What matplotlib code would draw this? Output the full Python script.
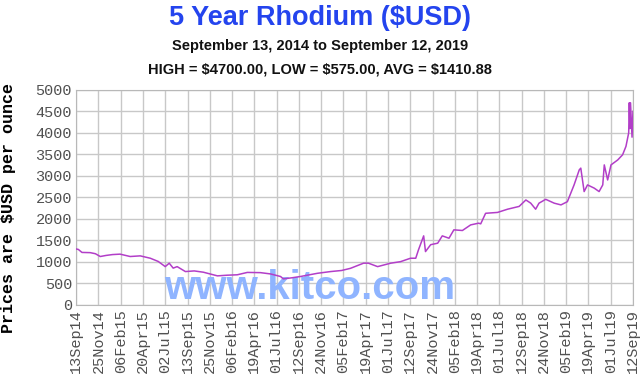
import pandas as pd
import matplotlib
matplotlib.use("Agg")
import matplotlib.pyplot as plt


# values (date, $USD per ounce)
dates = ['2014-09-13', '2014-09-20', '2014-10-02', '2014-10-29', '2014-11-15', '2014-12-01',
         '2014-12-20', '2015-01-10', '2015-02-04', '2015-03-09', '2015-04-11', '2015-05-14',
         '2015-06-09', '2015-07-02', '2015-07-15', '2015-07-28', '2015-08-10', '2015-09-06',
         '2015-10-05', '2015-11-04', '2015-12-20', '2016-01-20', '2016-02-23', '2016-03-27',
         '2016-05-09', '2016-06-11', '2016-07-14', '2016-07-23', '2016-08-20', '2016-09-17',
         '2016-11-12', '2016-12-25', '2017-01-30', '2017-02-28', '2017-04-12', '2017-04-28',
         '2017-05-28', '2017-07-10', '2017-08-11', '2017-09-13', '2017-09-30', '2017-10-09',
         '2017-10-26', '2017-11-01', '2017-11-18', '2017-12-11', '2017-12-26', '2018-01-17',
         '2018-02-02', '2018-03-02', '2018-03-29', '2018-04-24', '2018-05-01', '2018-05-17',
         '2018-06-25', '2018-07-28', '2018-09-04', '2018-09-26', '2018-10-12', '2018-10-28',
         '2018-11-08', '2018-11-30', '2018-12-28', '2019-01-19', '2019-02-09', '2019-03-03',
         '2019-03-20', '2019-03-25', '2019-04-05', '2019-04-16', '2019-05-08', '2019-05-24',
         '2019-06-05', '2019-06-10', '2019-06-21', '2019-07-02', '2019-07-24', '2019-08-09',
         '2019-08-20', '2019-08-29', '2019-08-31', '2019-09-02', '2019-09-04', '2019-09-09',
         '2019-09-12']
prices = [1300, 1290, 1220, 1215, 1190, 1125,
          1150, 1170, 1180, 1125, 1140, 1085,
          1010, 890, 970, 855, 890, 775,
          790, 760, 675, 690, 700, 755,
          750, 720, 660, 605, 630, 660,
          735, 775, 800, 850, 970, 970,
          890, 970, 1005, 1085, 1085, 1280,
          1605, 1240, 1400, 1435, 1605, 1550,
          1745, 1730, 1860, 1900, 1885, 2130,
          2150, 2225, 2290, 2440, 2365, 2225,
          2365, 2455, 2365, 2325, 2400, 2790,
          3140, 3180, 2635, 2790, 2715, 2635,
          2790, 3255, 2905, 3255, 3370, 3490,
          3685, 4000, 4700, 4100, 4700, 3900,
          4500]

tick_labels = ['13Sep14', '25Nov14', '06Feb15', '20Apr15', '02Jul15', '13Sep15', '25Nov15',
               '06Feb16', '19Apr16', '01Jul16', '12Sep16', '24Nov16', '05Feb17', '19Apr17',
               '01Jul17', '12Sep17', '24Nov17', '05Feb18', '19Apr18', '01Jul18', '12Sep18',
               '24Nov18', '05Feb19', '19Apr19', '01Jul19', '12Sep19']
y_ticks = list(range(0, 5001, 500))

title = '5 Year Rhodium ($USD)'
subtitle = 'September 13, 2014 to September 12, 2019'
stats = 'HIGH = $4700.00, LOW = $575.00, AVG = $1410.88'

x = pd.to_datetime(dates)
tick_dates = pd.to_datetime(tick_labels, format='%d%b%y')

fig = plt.figure(figsize=(6.4, 3.84), dpi=100)
ax = fig.add_axes([0.119, 0.206, 0.870, 0.560])

ax.plot(x, prices, color='#b23ec8', lw=1.1, zorder=3)

ax.set_xlim(tick_dates[0], tick_dates[-1])
ax.set_ylim(0, 5000)
ax.set_xticks(tick_dates)
ax.set_xticklabels(tick_labels, rotation=90, family='Liberation Mono', fontsize=11, color='#505050')
ax.set_yticks(y_ticks)
ax.set_yticklabels([str(v) for v in y_ticks], family='Liberation Mono', fontsize=11, color='#505050')
ax.tick_params(length=0, pad=3)
ax.grid(True, color='#c8c8c8', lw=1)
ax.set_axisbelow(True)
for s in ax.spines.values():
    s.set_color('#b8b8b8')

ax.set_ylabel('Prices are $USD per ounce', family='Liberation Mono', fontweight='bold',
              fontsize=12)
ax.yaxis.set_label_coords(-0.108, 0.45)

# watermark
ax.text(0.42, 0.08, 'www.kitco.com', transform=ax.transAxes, ha='center', va='center',
        family='Liberation Sans', fontweight='bold', fontsize=29, color='#8fb4ff', zorder=2)

fig.text(0.5, 0.953, title, ha='center', va='center', family='Liberation Sans',
         fontweight='bold', fontsize=19.5, color='#2444ee')
fig.text(0.5, 0.88, subtitle, ha='center', va='center', family='Liberation Sans',
         fontweight='bold', fontsize=10.5, color='#111111')
fig.text(0.5, 0.818, stats, ha='center', va='center', family='Liberation Sans',
         fontweight='bold', fontsize=10.5, color='#111111')

fig.savefig('out.png', dpi=100)
